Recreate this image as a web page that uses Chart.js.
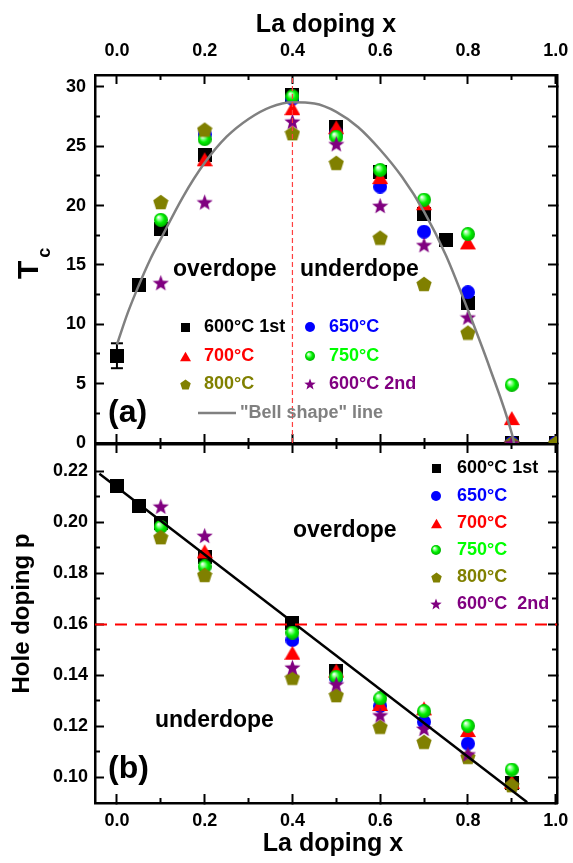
<!DOCTYPE html>
<html lang="en">
<head>
<meta charset="UTF-8" />
<title>Tc and hole doping vs La doping</title>
<script src="https://cdn.jsdelivr.net/npm/chart.js"></script>
<style>
  html, body { margin: 0; padding: 0; background: #fff; }
  #wrap { position: relative; width: 573px; height: 863px; }
  #wrap canvas { position: absolute; left: 0; top: 0; }
</style>
</head>
<body>
<div id="wrap">
  <canvas id="tcChart" width="573" height="863"></canvas>
  <canvas id="pChart" width="573" height="863"></canvas>
</div>

<script>
// ---- axis ticks ----
const xMajor = [0.0, 0.2, 0.4, 0.6, 0.8, 1.0];
const xMinor = [0.1, 0.3, 0.5, 0.7, 0.9];
const tcMajor = [0, 5, 10, 15, 20, 25, 30];
const tcMinor = [2.5, 7.5, 12.5, 17.5, 22.5, 27.5];
const pMajor = [0.10, 0.12, 0.14, 0.16, 0.18, 0.20, 0.22];
const pMinor = [0.11, 0.13, 0.15, 0.17, 0.19, 0.21];

const seriesNames = ['600°C 1st', '650°C', '700°C', '750°C', '800°C', '600°C 2nd'];
const seriesNamesB = ['600°C 1st', '650°C', '700°C', '750°C', '800°C', '600°C  2nd'];

// ---- panel (a): Tc ----
const tcX1st = [0, 0.05, 0.1, 0.2, 0.4, 0.5, 0.6, 0.7, 0.75, 0.8, 0.9, 1.0];
const tc1st  = [7.3, 13.3, 18.0, 24.3, 29.3, 26.6, 22.8, 19.3, 17.1, 11.8, 0, 0];
const tcErrX  = [0];
const tcErrLo = [6.3];
const tcErrHi = [8.4];
const tcX650 = [0.2, 0.4, 0.5, 0.6, 0.7, 0.8, 0.9, 1.0];
const tc650  = [26.0, 29.0, 26.1, 21.6, 17.8, 12.7, 0, 0];
const tcX700 = [0.2, 0.4, 0.5, 0.6, 0.7, 0.8, 0.9, 1.0];
const tc700  = [23.9, 28.2, 26.6, 22.4, 20.2, 16.9, 2.1, 0];
const tcX750 = [0.1, 0.2, 0.4, 0.5, 0.6, 0.7, 0.8, 0.9];
const tc750  = [18.8, 25.6, 29.2, 25.8, 23.0, 20.5, 17.6, 4.9];
const tcX800 = [0.1, 0.2, 0.4, 0.5, 0.6, 0.7, 0.8, 0.9, 1.0];
const tc800  = [20.3, 26.4, 26.1, 23.6, 17.3, 13.4, 9.3, 0, 0];
const tcX2nd = [0.1, 0.2, 0.4, 0.5, 0.6, 0.7, 0.8, 0.9];
const tc2nd  = [13.5, 20.3, 27.1, 25.2, 20.0, 16.7, 10.6, 0];
// "Bell shape" guide line
const bellX = [0, 0.025, 0.05, 0.075, 0.1, 0.15, 0.2, 0.25, 0.3, 0.35, 0.4, 0.45, 0.5, 0.55, 0.6, 0.65, 0.7, 0.75, 0.8, 0.85, 0.9, 0.905];
const bellY = [8.3, 11.0, 13.3, 15.4, 17.2, 20.7, 23.6, 25.8, 27.3, 28.3, 28.7, 28.6, 27.9, 26.6, 24.7, 22.4, 19.5, 15.8, 11.2, 6.3, 0.8, 0];
const critX = 0.4;

// ---- panel (b): hole doping p ----
const pX1st = [0, 0.05, 0.1, 0.2, 0.4, 0.5, 0.9];
const p1st  = [0.2144, 0.2063, 0.1997, 0.1864, 0.1607, 0.1419, 0.0977];
const pX650 = [0.4, 0.5, 0.6, 0.7, 0.8];
const p650  = [0.1539, 0.1390, 0.1280, 0.1218, 0.1133];
const pX700 = [0.2, 0.4, 0.5, 0.6, 0.7, 0.8, 0.9];
const p700  = [0.1886, 0.1489, 0.1419, 0.1288, 0.1271, 0.1186, 0.0983];
const pX750 = [0.1, 0.2, 0.4, 0.5, 0.6, 0.7, 0.8, 0.9];
const p750  = [0.1982, 0.1827, 0.1568, 0.1395, 0.1310, 0.1260, 0.1203, 0.1031];
const pX800 = [0.1, 0.2, 0.4, 0.5, 0.6, 0.7, 0.8, 0.9];
const p800  = [0.1942, 0.1794, 0.1391, 0.1323, 0.1199, 0.1140, 0.1081, 0.0970];
const pX2nd = [0.1, 0.2, 0.4, 0.5, 0.6, 0.7, 0.8];
const p2nd  = [0.2063, 0.1948, 0.1432, 0.1366, 0.1245, 0.1192, 0.1092];
const fitX = [-0.04, 0.935];
const fitP = [0.219, 0.0903];
const critP = 0.16;

// ranges
const X_MIN = -0.05, X_MAX = 1.003;
const TC_MIN = 0, TC_MAX = 31;
const P_MIN = 0.09, P_MAX = 0.2307;

const FONT = '"Liberation Sans", Arial, sans-serif';
Chart.defaults.font.family = FONT;
Chart.defaults.font.weight = 'bold';
Chart.defaults.color = '#000';

const COL = { black: '#000000', blue: '#0000ff', red: '#ff0000', green: '#00ff00', olive: '#808000', purple: '#800080', gray: '#808080' };

// marker images (used as pointStyle and in the legends)
function marker(shape, size, color) {
  const c = document.createElement('canvas');
  c.width = c.height = size;
  const g = c.getContext('2d');
  const r = size / 2;
  g.fillStyle = color;
  g.beginPath();
  if (shape === 'square') {
    g.rect(0, 0, size, size);
  } else if (shape === 'circle') {
    g.arc(r, r, r, 0, Math.PI * 2);
  } else if (shape === 'triangle') {
    const h = size * 0.866, top = (size - h) / 2;
    g.moveTo(r, top); g.lineTo(size, top + h); g.lineTo(0, top + h);
  } else if (shape === 'sphere') {
    const grd = g.createRadialGradient(r * 0.65, r * 0.6, r * 0.05, r, r, r);
    grd.addColorStop(0, '#ffffff');
    grd.addColorStop(0.3, '#7dff7d');
    grd.addColorStop(0.6, '#00f000');
    grd.addColorStop(1, '#00b000');
    g.fillStyle = grd;
    g.arc(r, r, r, 0, Math.PI * 2);
  } else if (shape === 'pentagon' || shape === 'star') {
    const n = shape === 'star' ? 10 : 5;
    const dy = r * (1 - Math.cos(Math.PI / 5)) / 2;
    for (let k = 0; k < n; k++) {
      const a = -Math.PI / 2 + k * 2 * Math.PI / n;
      const rr = (shape === 'star' && k % 2) ? r * 0.42 : r;
      const px = r + rr * Math.cos(a), py = r + dy + rr * Math.sin(a);
      k ? g.lineTo(px, py) : g.moveTo(px, py);
    }
  }
  g.closePath();
  g.fill();
  return c;
}

const imgSq = marker('square', 14, COL.black);
const imgCi = marker('circle', 14, COL.blue);
const imgTr = marker('triangle', 16, COL.red);
const imgSp = marker('sphere', 14, COL.green);
const imgPe = marker('pentagon', 16, COL.olive);
const imgSt = marker('star', 17, COL.purple);
const legSq = marker('square', 9, COL.black);
const legCi = marker('circle', 10, COL.blue);
const legTr = marker('triangle', 11, COL.red);
const legSp = marker('sphere', 10, COL.green);
const legPe = marker('pentagon', 11, COL.olive);
const legSt = marker('star', 12, COL.purple);

function pts(xs, ys) { return xs.map((x, i) => ({ x: x, y: ys[i] })); }

function pointSet(label, xs, ys, img, order) {
  return { label: label, data: pts(xs, ys), xAxisID: 'x', yAxisID: 'y', showLine: false, pointStyle: img,
           pointRadius: 7, pointHoverRadius: 7, order: order, clip: 0 };
}
function lineSet(xs, ys, color, width, dash, extra) {
  return Object.assign({ data: pts(xs, ys), xAxisID: 'x', yAxisID: 'y', showLine: true, borderColor: color,
           borderWidth: width, borderDash: dash || [], pointRadius: 0, pointHoverRadius: 0, order: 0, clip: 0 }, extra || {});
}

// one side of a frame: a major-tick scale (optionally labelled) plus a
// zero-size minor-tick scale sitting right against the plot area
function side(id, pos, min, max, major, minor, fmt, size, pad, title) {
  const horiz = pos === 'top' || pos === 'bottom';
  const fix = sz => s => {
    if (horiz) s.height = sz; else s.width = sz;
    s.paddingLeft = s.paddingRight = s.paddingTop = s.paddingBottom = 0;
  };
  const out = {};
  out[id] = {
    type: 'linear', position: pos, min: min, max: max,
    afterBuildTicks: s => { s.ticks = major.map(v => ({ value: v })); },
    afterFit: fix(size),
    ticks: {
      autoSkip: false, maxRotation: 0, padding: pad,
      font: { size: 18, weight: 'bold' }, color: '#000',
      callback: v => fmt ? fmt(v) : ''
    },
    grid: { drawOnChartArea: false, tickLength: -9, tickWidth: 2, tickColor: '#000' },
    border: { display: true, color: '#000', width: 2.5 },
    title: title || { display: false }
  };
  out[id + 'm'] = {
    type: 'linear', position: pos, min: min, max: max, weight: -1,
    afterBuildTicks: s => { s.ticks = minor.map(v => ({ value: v })); },
    afterFit: fix(0),
    ticks: { autoSkip: false, maxRotation: 0, callback: () => '' },
    grid: { drawOnChartArea: false, tickLength: -5, tickWidth: 2, tickColor: '#000' },
    border: { display: false }
  };
  return out;
}

// free text, legends and the Tc label
function figText(spec) {
  return {
    id: 'figText',
    afterDraw(chart) {
      const ctx = chart.ctx;
      ctx.save();
      ctx.textBaseline = 'middle';
      ctx.textAlign = 'left';
      (spec.lines || []).forEach(l => {
        ctx.strokeStyle = l.color; ctx.lineWidth = l.width;
        ctx.beginPath(); ctx.moveTo(l.x1, l.y); ctx.lineTo(l.x2, l.y); ctx.stroke();
      });
      (spec.legend || []).forEach(e => {
        ctx.drawImage(e.img, Math.round(e.mx - e.img.width / 2), Math.round(e.y - e.img.height / 2));
        ctx.font = 'bold ' + e.size + 'px ' + FONT;
        ctx.fillStyle = e.color;
        ctx.fillText(e.text, e.tx, e.y);
      });
      (spec.notes || []).forEach(n => {
        ctx.font = 'bold ' + n.size + 'px ' + FONT;
        ctx.fillStyle = n.color || '#000';
        ctx.fillText(n.text, n.x, n.y);
      });
      if (spec.tc) {
        ctx.translate(spec.tc.x, spec.tc.y);
        ctx.rotate(-Math.PI / 2);
        ctx.textBaseline = 'alphabetic';
        ctx.fillStyle = '#000';
        ctx.font = 'bold 30px ' + FONT;
        ctx.fillText('T', 0, 0);
        const w = ctx.measureText('T').width;
        ctx.font = 'bold 18px ' + FONT;
        ctx.fillText('c', w + 3, 12);
      }
      ctx.restore();
    }
  };
}

const fmt1 = v => v.toFixed(1);
const fmtInt = v => String(Math.round(v));
const fmt2 = v => v.toFixed(2);
const NBSP = '\u00a0';

// ---------- panel (a) ----------
new Chart(document.getElementById('tcChart'), {
  type: 'scatter',
  data: {
    datasets: [
      lineSet([critX, critX], [TC_MIN, TC_MAX], '#ff4040', 1.2, [5, 3]),
      lineSet(bellX, bellY, COL.gray, 2.5, [], { cubicInterpolationMode: 'monotone' }),
      lineSet([tcErrX[0], tcErrX[0]], [tcErrLo[0], tcErrHi[0]], COL.black, 2, [],
              { pointStyle: 'line', pointRadius: 6, pointBorderWidth: 2, pointBorderColor: COL.black, order: 7 }),
      pointSet(seriesNames[0], tcX1st, tc1st, imgSq, 6),
      pointSet(seriesNames[1], tcX650, tc650, imgCi, 5),
      pointSet(seriesNames[2], tcX700, tc700, imgTr, 4),
      pointSet(seriesNames[3], tcX750, tc750, imgSp, 3),
      pointSet(seriesNames[4], tcX800, tc800, imgPe, 2),
      pointSet(seriesNames[5], tcX2nd, tc2nd, imgSt, 1)
    ]
  },
  options: {
    responsive: false, animation: false, events: [],
    layout: { padding: { top: 0, right: 16, bottom: 420, left: 0 } },
    plugins: { legend: { display: false }, tooltip: { enabled: false } },
    scales: Object.assign({},
      side('x', 'bottom', X_MIN, X_MAX, xMajor, xMinor, null, 0, 0),
      side('x2', 'top', X_MIN, X_MAX, xMajor, xMinor, fmt1, 75, 22,
           { display: true, text: 'La doping x', font: { size: 25, weight: 'bold' }, padding: { top: 10, bottom: 0 } }),
      side('y', 'left', TC_MIN, TC_MAX, tcMajor, tcMinor, fmtInt, 95, 18),
      side('y2', 'right', TC_MIN, TC_MAX, tcMajor, tcMinor, null, 0, 0)
    )
  },
  plugins: [figText({
    tc: { x: 38, y: 279 },
    lines: [{ x1: 198, x2: 236, y: 413, color: COL.gray, width: 2.5 }],
    legend: [
      { img: legSq, mx: 185, tx: 204, y: 327, text: seriesNames[0], color: COL.black, size: 18 },
      { img: legTr, mx: 185, tx: 204, y: 356, text: seriesNames[2], color: COL.red, size: 18 },
      { img: legPe, mx: 185, tx: 204, y: 384, text: seriesNames[4], color: COL.olive, size: 18 },
      { img: legCi, mx: 310, tx: 329, y: 327, text: seriesNames[1], color: COL.blue, size: 18 },
      { img: legSp, mx: 310, tx: 329, y: 356, text: seriesNames[3], color: COL.green, size: 18 },
      { img: legSt, mx: 310, tx: 329, y: 384, text: seriesNames[5], color: COL.purple, size: 18 }
    ],
    notes: [
      { text: '"Bell shape" line', x: 240, y: 413, size: 18, color: COL.gray },
      { text: 'overdope', x: 173, y: 270, size: 23 },
      { text: 'underdope', x: 300, y: 270, size: 23 },
      { text: '(a)', x: 108, y: 413, size: 32 }
    ]
  })]
});

// ---------- panel (b) ----------
new Chart(document.getElementById('pChart'), {
  type: 'scatter',
  data: {
    datasets: [
      lineSet([X_MIN, X_MAX], [critP, critP], COL.red, 2, [12, 8]),
      lineSet(fitX, fitP, COL.black, 2.5),
      pointSet(seriesNamesB[0], pX1st, p1st, imgSq, 6),
      pointSet(seriesNamesB[1], pX650, p650, imgCi, 5),
      pointSet(seriesNamesB[2], pX700, p700, imgTr, 4),
      pointSet(seriesNamesB[3], pX750, p750, imgSp, 3),
      pointSet(seriesNamesB[4], pX800, p800, imgPe, 2),
      pointSet(seriesNamesB[5], pX2nd, p2nd, imgSt, 1)
    ]
  },
  options: {
    responsive: false, animation: false, events: [],
    layout: { padding: { top: 444, right: 16, bottom: 0, left: 0 } },
    plugins: { legend: { display: false }, tooltip: { enabled: false } },
    scales: Object.assign({},
      side('x', 'bottom', X_MIN, X_MAX, xMajor, xMinor, fmt1, 60, 16,
           { display: true, text: NBSP + NBSP + 'La doping x', font: { size: 25, weight: 'bold' }, padding: { top: 0, bottom: 4 } }),
      side('x2', 'top', X_MIN, X_MAX, xMajor, xMinor, null, 0, 0),
      side('y', 'left', P_MIN, P_MAX, pMajor, pMinor, fmt2, 95, 16,
           { display: true, text: NBSP + NBSP + NBSP + 'Hole doping p', font: { size: 24, weight: 'bold' }, padding: { top: 8, bottom: 0 } }),
      side('y2', 'right', P_MIN, P_MAX, pMajor, pMinor, null, 0, 0)
    )
  },
  plugins: [figText({
    legend: [
      { img: legSq, mx: 436, tx: 457, y: 468, text: seriesNamesB[0], color: COL.black, size: 18 },
      { img: legCi, mx: 436, tx: 457, y: 496, text: seriesNamesB[1], color: COL.blue, size: 18 },
      { img: legTr, mx: 436, tx: 457, y: 523, text: seriesNamesB[2], color: COL.red, size: 18 },
      { img: legSp, mx: 436, tx: 457, y: 550, text: seriesNamesB[3], color: COL.green, size: 18 },
      { img: legPe, mx: 436, tx: 457, y: 577, text: seriesNamesB[4], color: COL.olive, size: 18 },
      { img: legSt, mx: 436, tx: 457, y: 604, text: seriesNamesB[5], color: COL.purple, size: 18 }
    ],
    notes: [
      { text: 'overdope', x: 293, y: 531, size: 23 },
      { text: 'underdope', x: 155, y: 721, size: 23 },
      { text: '(b)', x: 108, y: 769, size: 32 }
    ]
  })]
});
</script>
</body>
</html>
